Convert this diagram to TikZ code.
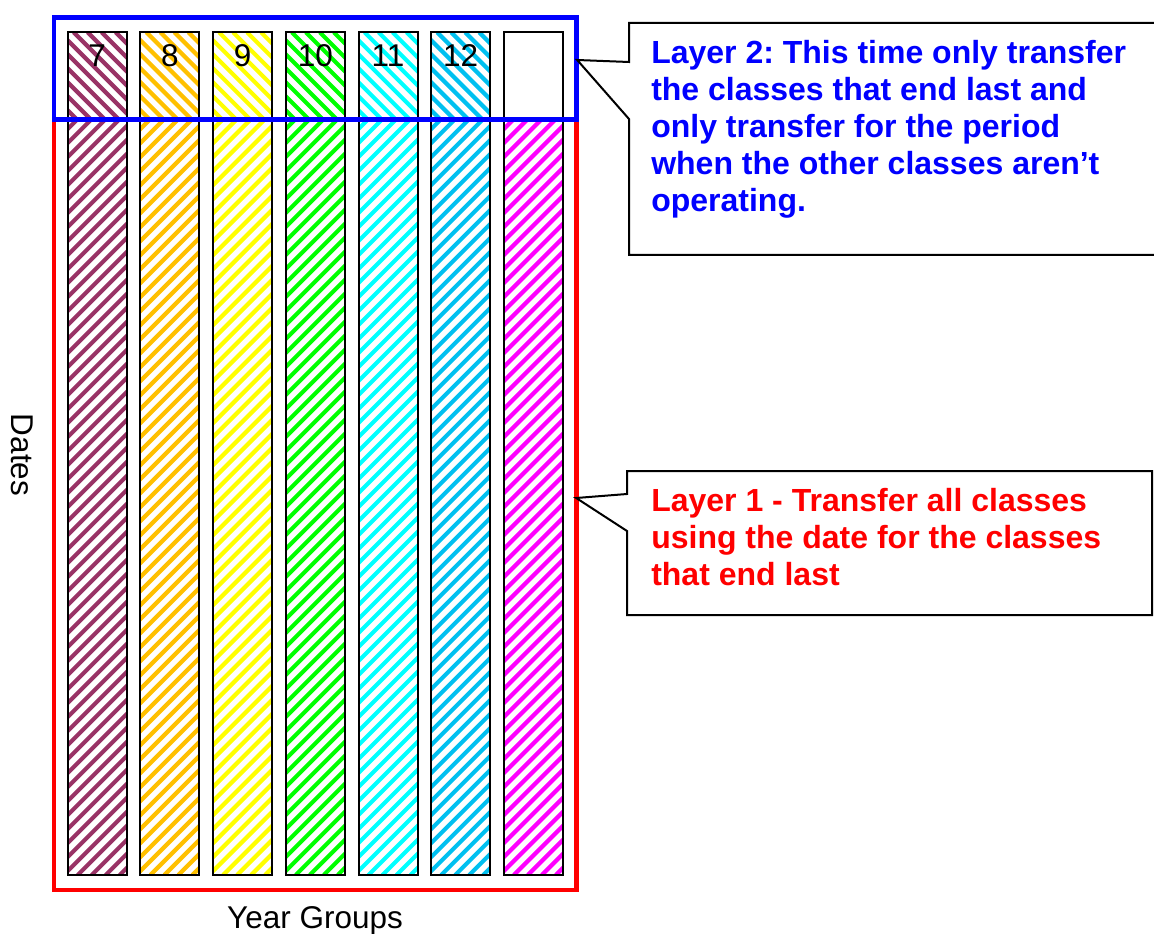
\documentclass[tikz,border=0pt]{standalone}
\usepackage{fontspec}
\setmainfont{Liberation Sans}
\frenchspacing

\definecolor{yrmaroon}{HTML}{993366}
\definecolor{yrgold}{HTML}{FFC000}
\definecolor{yryellow}{HTML}{FFFF00}
\definecolor{yrgreen}{HTML}{00FF00}
\definecolor{yrcyan}{HTML}{00FFFF}
\definecolor{yrsky}{HTML}{00C0F0}
\definecolor{yrmagenta}{HTML}{FF00FF}
\definecolor{framered}{HTML}{FF0000}
\definecolor{frameblue}{HTML}{0000FF}

\tikzset{
  colbox/.style={draw=black, line width=1.5pt, minimum width=44.25pt,
    minimum height=632pt, inner sep=0pt},
  stripe/.style={line width=3.1pt},
  yrlabel/.style={anchor=base, inner sep=0pt, font=\fontsize{23.6}{27}\selectfont},
  axislabel/.style={anchor=base, inner sep=0pt, font=\fontsize{23.6}{27}\selectfont},
  layerframe/.style={line width=3.3pt, minimum width=392.1pt, inner sep=0pt},
  calloutbox/.style={draw=black, line width=1.5pt, fill=white, line join=miter},
  callouttext/.style={anchor=north west, inner sep=0pt, align=left,
    font=\fontsize{24}{27.75}\selectfont\bfseries},
}

\begin{document}
\begin{tikzpicture}[x=0.75pt, y=-0.75pt]
  \useasboundingbox (0,0) rectangle (1154,934);
  \clip (0,0) rectangle (1154,934);
  \fill[white] (0,0) rectangle (1154,934);

  % year-group columns: upper cell hatched one way, long lower part the other way
  \foreach \i/\tc/\lc in {0/yrmaroon/yrmaroon, 1/yrgold/yrgold, 2/yryellow/yryellow,
                           3/yrgreen/yrgreen, 4/yrcyan/yrcyan, 5/yrsky/yrsky,
                           6/white/yrmagenta}{
    \pgfmathsetmacro{\xl}{67.7+72.7*\i}
    \begin{scope}
      \clip (\xl,32.3) rectangle (\xl+59,119.5);
      \foreach \k in {-120,-106,...,60}
        \draw[stripe, draw=\tc] (\xl+\k,32.3) -- ++(120,120);
    \end{scope}
    \begin{scope}
      \clip (\xl,119.5) rectangle (\xl+59,875);
      \foreach \k in {-760,-746,...,80}
        \draw[stripe, draw=\lc] (\xl+\k,875) -- ++(780,-780);
    \end{scope}
    \node[colbox] (col\i) at (\xl+29.5,453.65) {};
  }

  % year numbers
  \foreach \i/\n in {0/7, 1/8, 2/9, 3/10, 4/11, 5/12}
    \node[yrlabel] (num\i) at (97.2+72.7*\i,66.5) {\n};

  % layer frames
  \node[layerframe, draw=framered, minimum height=577.9pt] (layer1) at (315.1,504.75) {};
  \node[layerframe, draw=frameblue, minimum height=76.35pt] (layer2) at (315.1,68.6) {};

  % axis labels
  \node[axislabel] (xlab) at (315,928) {Year Groups};
  \node[axislabel, rotate=-90] (ylab) at (12,455) {Dates};

  % callout for layer 2
  \path (layer2.east) ++(-1.5,-8.6) coordinate (tip2);
  \draw[calloutbox] (629,119) -- (tip2) -- (629,62) -- (629,23) -- (1170,23)
    -- (1170,255) -- (629,255) -- cycle;
  \node[callouttext, text=frameblue] (note2) at (651,40)
    {Layer 2: This time only transfer\\the classes that end last and\\only transfer for the period\\when the other classes aren’t\\operating.};

  % callout for layer 1
  \path (layer1.east) ++(-2.5,-6.75) coordinate (tip1);
  \draw[calloutbox] (627,531) -- (tip1) -- (627,494) -- (627,471) -- (1152,471)
    -- (1152,615) -- (627,615) -- cycle;
  \node[callouttext, text=framered] (note1) at (651,488)
    {Layer 1 - Transfer all classes\\using the date for the classes\\that end last};
\end{tikzpicture}
\end{document}
